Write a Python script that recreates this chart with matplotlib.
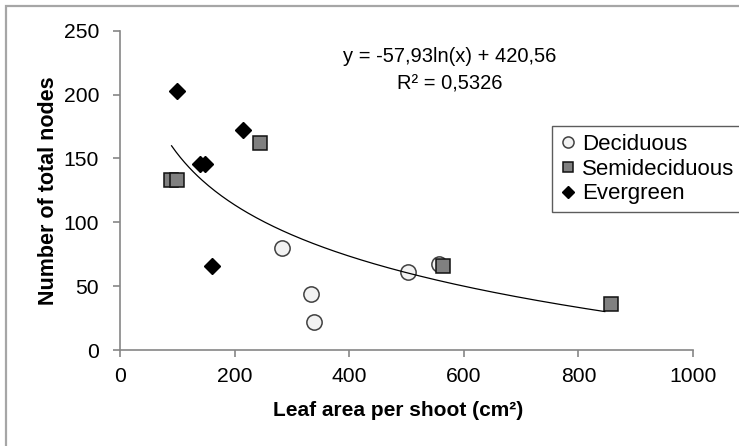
import numpy as np
import matplotlib
matplotlib.use('Agg')
import matplotlib.pyplot as plt
from matplotlib.patches import Rectangle

plt.rcParams['font.family'] = ['Liberation Sans', 'DejaVu Sans']

# Data
deciduous_x = [282, 334, 338, 503, 556]
deciduous_y = [80, 44, 22, 61, 67]
semi_x = [89, 100, 244, 563, 857]
semi_y = [133, 133, 162, 66, 36]
ever_x = [99, 140, 148, 161, 214]
ever_y = [203, 146, 146, 66, 172]

# Logarithmic trend line shown on the chart
fit_a, fit_b = -57.93, 420.56
fit_range = (90, 846)

fig = plt.figure(figsize=(7.39, 4.46), dpi=100)
ax = fig.add_axes([120 / 739, 1 - 350 / 446, 573 / 739, 319.3 / 446])

# chart area border (cut by the image edge on the right and bottom)
fig.patches.append(Rectangle((6 / 739, -0.1), 1.2, 1 - 6 / 446 + 0.1,
                             transform=fig.transFigure, fill=False,
                             edgecolor='#a6a6a6', linewidth=1.6))

ax.plot(deciduous_x, deciduous_y, 'o', ms=11, mfc='#f2f2f2', mec='#404040',
        mew=1.1, label='Deciduous', zorder=2)
ax.plot(semi_x, semi_y, 's', ms=9.5, mfc='#808080', mec='#111111',
        mew=1.1, label='Semideciduous', zorder=2)
ax.plot(ever_x, ever_y, 'D', ms=8.3, mfc='black', mec='black',
        label='Evergreen', zorder=2)

xs = np.linspace(fit_range[0], fit_range[1], 200)
ax.plot(xs, fit_a * np.log(xs) + fit_b, color='black', lw=0.9, zorder=3)

ax.text(576, 219, 'y = -57,93ln(x) + 420,56\nR² = 0,5326', ha='center',
        va='center', fontsize=14.5, linespacing=1.55)

ax.set_xlim(0, 1000)
ax.set_ylim(0, 250)
ax.set_xticks(range(0, 1001, 200))
ax.set_yticks(range(0, 251, 50))
for s in ['top', 'right']:
    ax.spines[s].set_visible(False)
for s in ['left', 'bottom']:
    ax.spines[s].set_color('#868686')
    ax.spines[s].set_linewidth(1.2)
ax.tick_params(direction='out', length=5, width=1.2, color='#868686',
               labelsize=15.2, labelcolor='black')
ax.tick_params(axis='y', pad=10)
ax.tick_params(axis='x', pad=7)

ax.set_xlabel('Leaf area per shoot (cm²)', fontsize=15, fontweight='bold')
ax.set_ylabel('Number of total nodes', fontsize=15.5, fontweight='bold')
ax.xaxis.label.set_va('center')
ax.xaxis.set_label_coords(0.486, -0.188)
ax.yaxis.label.set_va('center')
ax.yaxis.set_label_coords(-0.124, 0.498)

leg = ax.legend(loc='upper left', bbox_to_anchor=(552 / 739, 1 - 126 / 446),
                bbox_transform=fig.transFigure, fontsize=16, frameon=True,
                fancybox=False, edgecolor='#333333', borderpad=0.35,
                labelspacing=0.17, handlelength=0.75, handletextpad=0.25,
                borderaxespad=0, numpoints=1)
leg.get_frame().set_linewidth(1.0)
for h, ms in zip(leg.legend_handles, [8, 7.5, 6.5]):
    h.set_markersize(ms)

fig.savefig('out.png', dpi=100)
